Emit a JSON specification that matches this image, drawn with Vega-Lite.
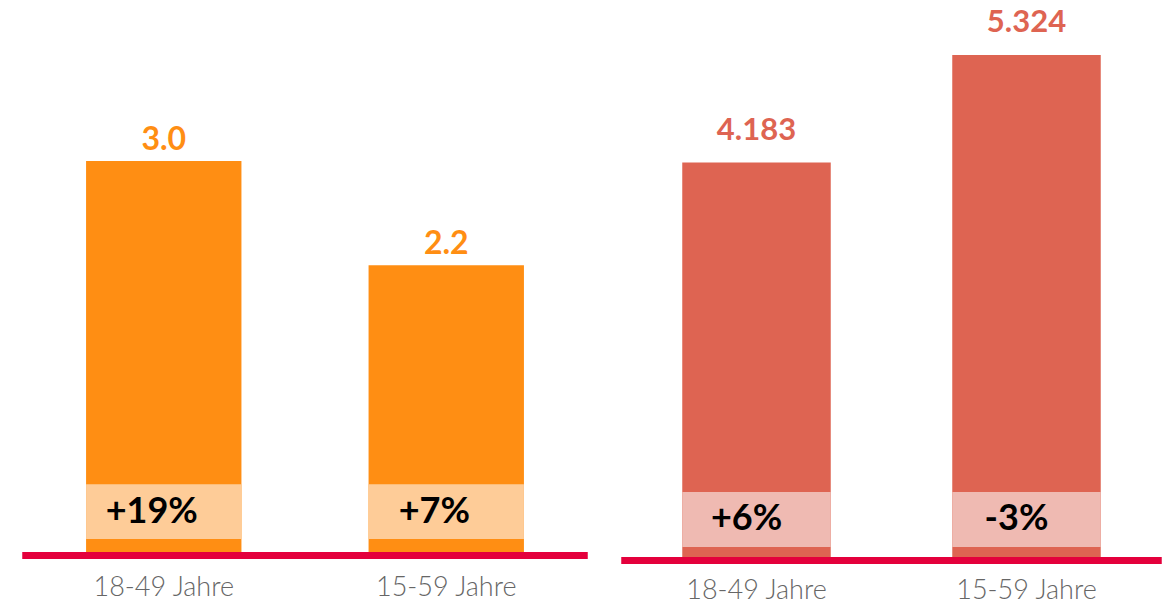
{
  "$schema": "https://vega.github.io/schema/vega-lite/v6.json",
  "padding": {"left": 18.5, "top": 0, "right": 0, "bottom": 0},
  "background": "white",
  "config": {"view": {"stroke": null}, "font": "Lato"},
  "datasets": {
    "links": [
      {"gruppe": "18-49 Jahre", "wert": 3.0, "label": "3.0", "veraenderung": "+19%"},
      {"gruppe": "15-59 Jahre", "wert": 2.2, "label": "2.2", "veraenderung": "+7%"}
    ],
    "rechts": [
      {"gruppe": "18-49 Jahre", "wert": 4.183, "label": "4.183", "veraenderung": "+6%"},
      {"gruppe": "15-59 Jahre", "wert": 5.324, "label": "5.324", "veraenderung": "-3%"}
    ]
  },
  "spacing": 26,
  "hconcat": [
    {
      "width": 565,
      "height": 552,
      "data": {"name": "links"},
      "layer": [
        {
          "encoding": {
            "x": {"field": "gruppe", "type": "nominal", "sort": null, "title": null,
              "scale": {"paddingInner": 0.45, "paddingOuter": 0.225},
              "axis": {"domain": false, "ticks": false, "labelAngle": 0, "labelFont": "Lato", "labelFontSize": 27, "labelFontWeight": 300, "labelColor": "#666666", "labelPadding": 22}}
          },
          "layer": [
            {"mark": {"type": "bar", "color": "#FF8E13"},
             "encoding": {"y": {"field": "wert", "type": "quantitative", "scale": {"domain": [0, 4.236], "nice": false}, "axis": null}}},
            {"mark": {"type": "bar", "color": "#FECC98"},
             "encoding": {"y": {"datum": 0.1, "type": "quantitative"}, "y2": {"datum": 0.52}}},
            {"mark": {"type": "text", "fontWeight": "bold", "fontSize": 36, "color": "#000000", "baseline": "middle", "dx": -12},
             "encoding": {"y": {"datum": 0.31, "type": "quantitative"}, "text": {"field": "veraenderung"}}},
            {"mark": {"type": "text", "fontWeight": "bold", "fontSize": 32, "color": "#FF8E13", "baseline": "alphabetic", "dy": -11},
             "encoding": {"y": {"field": "wert", "type": "quantitative"}, "text": {"field": "label"}}}
          ]
        },
        {"mark": {"type": "rule", "color": "#E4003C", "strokeWidth": 7, "yOffset": 3.5},
         "encoding": {"y": {"datum": 0, "type": "quantitative"}}}
      ]
    },
    {
      "width": 540,
      "height": 557,
      "data": {"name": "rechts"},
      "layer": [
        {
          "encoding": {
            "x": {"field": "gruppe", "type": "nominal", "sort": null, "title": null,
              "scale": {"paddingInner": 0.45, "paddingOuter": 0.225},
              "axis": {"domain": false, "ticks": false, "labelAngle": 0, "labelFont": "Lato", "labelFontSize": 27, "labelFontWeight": 300, "labelColor": "#666666", "labelPadding": 20}}
          },
          "layer": [
            {"mark": {"type": "bar", "color": "#DE6452"},
             "encoding": {"y": {"field": "wert", "type": "quantitative", "scale": {"domain": [0, 5.907], "nice": false}, "axis": null}}},
            {"mark": {"type": "bar", "color": "#EFBAB2"},
             "encoding": {"y": {"datum": 0.106, "type": "quantitative"}, "y2": {"datum": 0.69}}},
            {"mark": {"type": "text", "fontWeight": "bold", "fontSize": 36, "color": "#000000", "baseline": "middle", "dx": -10},
             "encoding": {"y": {"datum": 0.398, "type": "quantitative"}, "text": {"field": "veraenderung"}}},
            {"mark": {"type": "text", "fontWeight": "bold", "fontSize": 31, "color": "#DE6452", "baseline": "alphabetic", "dy": -23},
             "encoding": {"y": {"field": "wert", "type": "quantitative"}, "text": {"field": "label"}}}
          ]
        },
        {"mark": {"type": "rule", "color": "#E4003C", "strokeWidth": 7, "yOffset": 3.5},
         "encoding": {"y": {"datum": 0, "type": "quantitative"}}}
      ]
    }
  ]
}
